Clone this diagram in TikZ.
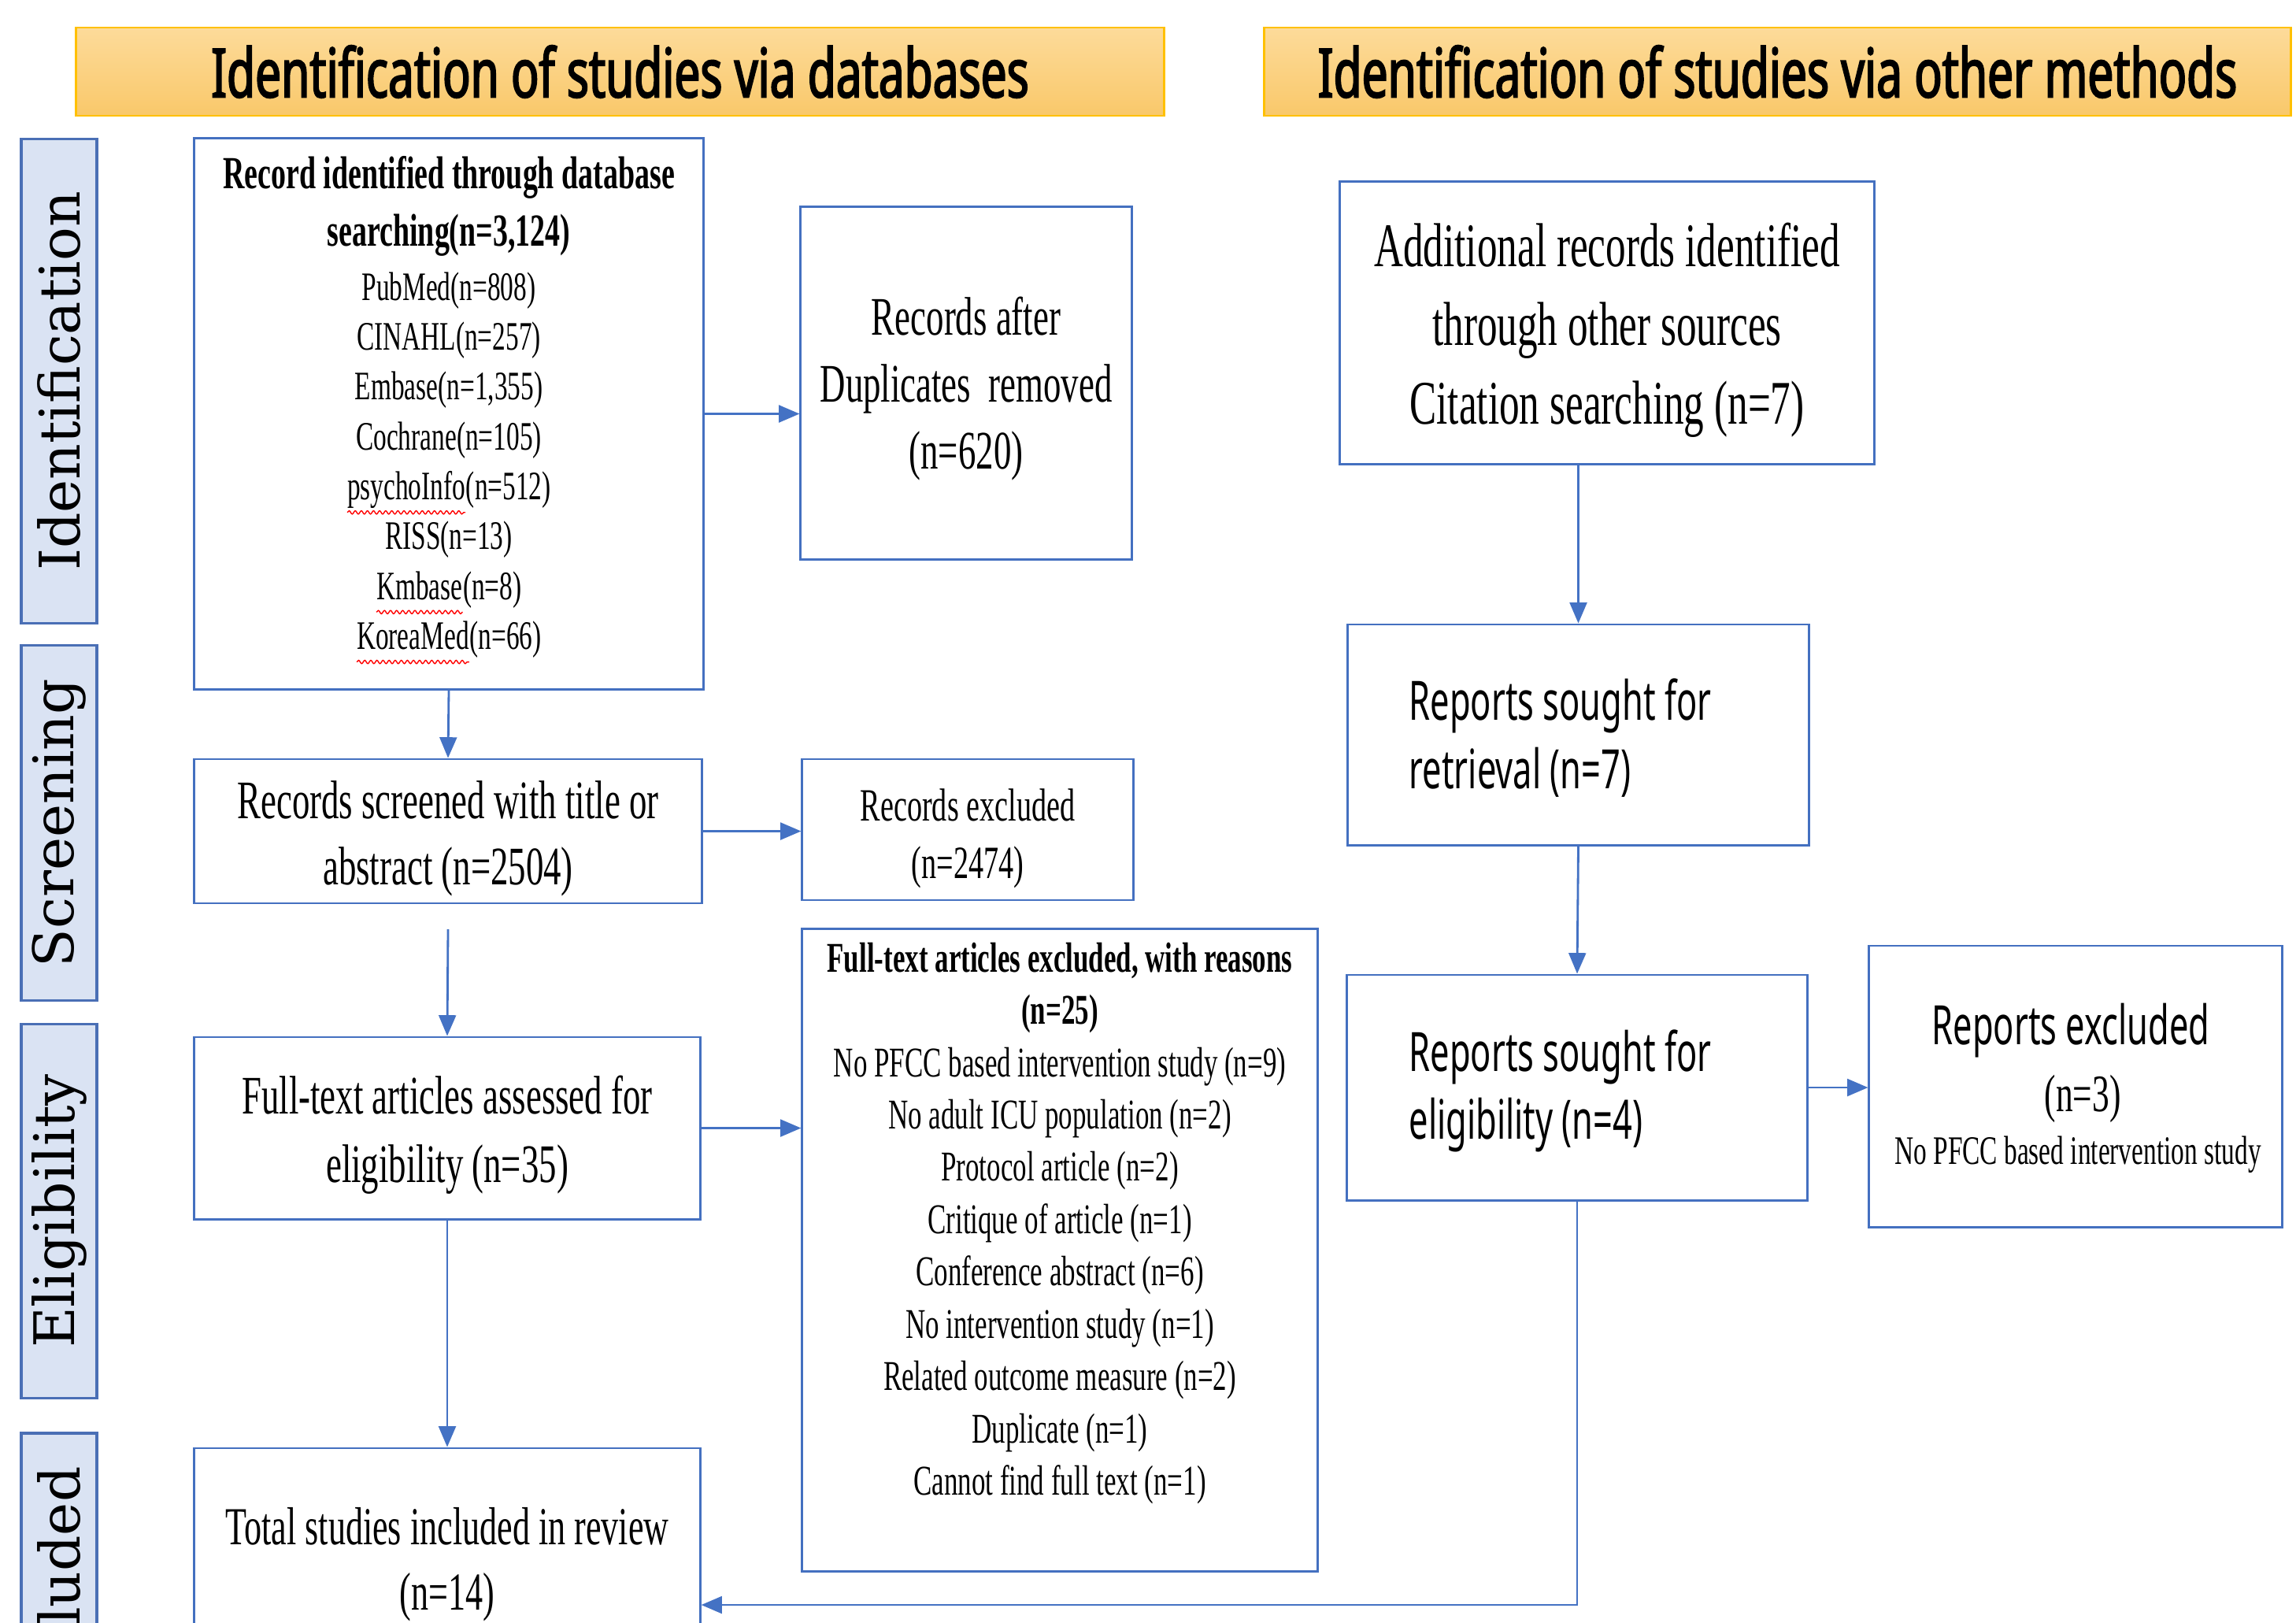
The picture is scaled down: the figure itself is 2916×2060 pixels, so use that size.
\documentclass[tikz,border=0pt]{standalone}
\usepackage{fontspec}
\setmainfont[FakeStretch=0.65]{Liberation Serif}
\newfontfamily\hdrfont[FakeStretch=0.68,FakeBold=2.2]{Noto Sans}
\newfontfamily\sansc[FakeStretch=0.63]{Noto Sans}
\newfontfamily\sidefont{DejaVu Serif}
\usetikzlibrary{arrows.meta,decorations.pathmorphing}
\definecolor{boxblue}{HTML}{4470C0}
\definecolor{arrowblue}{HTML}{4472C4}
\definecolor{sideblue}{HTML}{4A6FB5}
\definecolor{sidefill}{HTML}{DAE3F3}
\definecolor{hdrline}{HTML}{FFC000}
\definecolor{hdrtop}{HTML}{FDDB9A}
\definecolor{hdrbot}{HTML}{F9C86A}
\definecolor{spellred}{HTML}{FF0000}
\newcommand\redwave[1]{\tikz[baseline=(rw.base)]{\node[inner sep=0pt,outer sep=0pt,anchor=base] (rw) at (0,0) {#1};
  \draw[spellred, line width=0.4pt, decorate, decoration={snake, amplitude=0.6pt, segment length=2.2pt}]
    ([yshift=-4.6pt]rw.base west) -- ([yshift=-4.6pt]rw.base east);}}
\begin{document}
\begin{tikzpicture}[x=0.01cm,y=-0.01cm,
  box/.style={draw=boxblue, line width=0.8pt, fill=white, inner sep=0pt},
  side/.style={draw=sideblue, line width=0.9pt, fill=sidefill, rotate=90, inner sep=0pt,
    minimum height=0.96cm, font=\sidefont\fontsize{20.2}{24}\selectfont},
  hdr/.style={draw=hdrline, line width=0.8pt, top color=hdrtop, bottom color=hdrbot, inner sep=0pt,
    minimum height=1.12cm, font=\hdrfont\fontsize{24.5}{29}\selectfont},
  arr/.style={draw=arrowblue, line width=0.8pt, -{Triangle[length=7.5pt,width=6.2pt]}},
  txt/.style={inner sep=0pt, align=center},
]
\useasboundingbox (0,0) rectangle (2916,2060);
\begin{scope}
\clip (0,0) rectangle (2916,2060);

% headers
\node[hdr, minimum width=13.81cm] (hL) at (787.5,91) {Identification of studies via databases};
\node[hdr, minimum width=13.03cm] (hR) at (2257.5,91) {Identification of studies via other methods};

% phase bars
\node[side, minimum width=6.14cm] (sid1) at (75,484) {Identification};
\node[side, minimum width=4.50cm] (sid2) at (75,1045) {Screening};
\node[side, minimum width=4.74cm] (sid3) at (75,1538) {Eligibility};
\node[side, minimum width=4.00cm] (sid4) at (75,2020) {Included};

% left column
\node[box, minimum width=6.46cm, minimum height=6.99cm] (A) at (570,525.5) {};
\node[txt, anchor=north, font=\bfseries\fontsize{16.6}{20.8}\selectfont] (Ab) at (570,198)
  {Record identified through database\\searching(n=3,124)};
\node[txt, anchor=north, font=\fontsize{14.6}{18}\selectfont] (Ar) at (570,345)
  {PubMed(n=808)\\CINAHL(n=257)\\Embase(n=1,355)\\Cochrane(n=105)\\\redwave{psychoInfo}(n=512)\\RISS(n=13)\\\redwave{Kmbase}(n=8)\\\redwave{KoreaMed}(n=66)};

\node[box, minimum width=4.20cm, minimum height=4.47cm] (B) at (1227,486.5) {};
\node[txt, font=\fontsize{19.6}{24.2}\selectfont] (Bt) at (1227,493.5)
  {Records after\\Duplicates\ \ removed\\(n=620)};

\node[box, minimum width=6.44cm, minimum height=1.83cm] (C) at (569,1055.5) {};
\node[txt, font=\fontsize{19.6}{23.9}\selectfont] (Ct) at (569,1064.5)
  {Records screened with title or\\abstract (n=2504)};

\node[box, minimum width=4.20cm, minimum height=1.79cm] (D) at (1229,1053.5) {};
\node[txt, font=\fontsize{16.7}{20.8}\selectfont] (Dt) at (1229,1064.5)
  {Records excluded\\(n=2474)};

\node[box, minimum width=6.42cm, minimum height=2.31cm] (E) at (568,1432.5) {};
\node[txt, font=\fontsize{19.6}{24.8}\selectfont] (Et) at (568,1441.5)
  {Full-text articles assessed for\\eligibility (n=35)};

\node[box, minimum width=6.54cm, minimum height=8.15cm] (F) at (1346,1587.5) {};
\node[txt, anchor=north, font=\fontsize{15.3}{18.9}\selectfont] (Ft) at (1346,1196)
  {\textbf{Full-text articles excluded, with reasons}\\\textbf{(n=25)}\\No PFCC based intervention study (n=9)\\No adult ICU population (n=2)\\Protocol article (n=2)\\Critique of article (n=1)\\Conference abstract (n=6)\\No intervention study (n=1)\\Related outcome measure (n=2)\\Duplicate (n=1)\\Cannot find full text (n=1)};

\node[box, minimum width=6.42cm, minimum height=2.84cm] (G) at (568,1981) {};
\node[txt, font=\fontsize{19.3}{23.6}\selectfont] (Gt) at (568,1987)
  {Total studies included in review\\(n=14)};

% right column
\node[box, minimum width=6.78cm, minimum height=3.58cm] (H) at (2041,410) {};
\node[txt, font=\fontsize{22.4}{28.5}\selectfont] (Ht) at (2041,419)
  {Additional records identified\\through other sources\\Citation searching (n=7)};

\node[box, minimum width=5.85cm, minimum height=2.80cm] (I) at (2004.5,933) {};
\node[txt, align=left, anchor=west, font=\sansc\fontsize{19.6}{24.5}\selectfont] (It) at (1789,937)
  {Reports sought for\\retrieval (n=7)};

\node[box, minimum width=5.84cm, minimum height=2.86cm] (J) at (2003,1381) {};
\node[txt, align=left, anchor=west, font=\sansc\fontsize{19.6}{24.5}\selectfont] (Jt) at (1789,1385)
  {Reports sought for\\eligibility (n=4)};

\node[box, minimum width=5.24cm, minimum height=3.57cm] (K) at (2636,1379.5) {};
\node[txt, font=\sansc\fontsize{19.6}{24.5}\selectfont] (Kt1) at (2630,1309) {Reports excluded};
\node[txt, font=\fontsize{19}{23}\selectfont] (Kt2) at (2645,1395) {(n=3)};
\node[txt, font=\fontsize{14.6}{18}\selectfont] (Kt3) at (2639,1466) {No PFCC based intervention study};

% connectors
\coordinate (gy) at (0,2038);
\draw[arr] (A.east) -- (A.east -| B.west);
\draw[arr] (A.south) -- (C.north);
\draw[arr] (C.east) -- (C.east -| D.west);
\draw[arr] ([yshift=-9pt]C.south) -- (E.north);
\draw[arr] (E.east) -- (E.east -| F.west);
\draw[arr] (E.south) -- (G.north);
\draw[arr] (H.south -| I.north) -- (I.north);
\draw[arr] (I.south) -- (J.north);
\draw[arr] (J.east) -- (J.east -| K.west);
\draw[arr] (J.south) -- (J.south |- gy) -- (G.east |- gy);
\end{scope}
\end{tikzpicture}
\end{document}
